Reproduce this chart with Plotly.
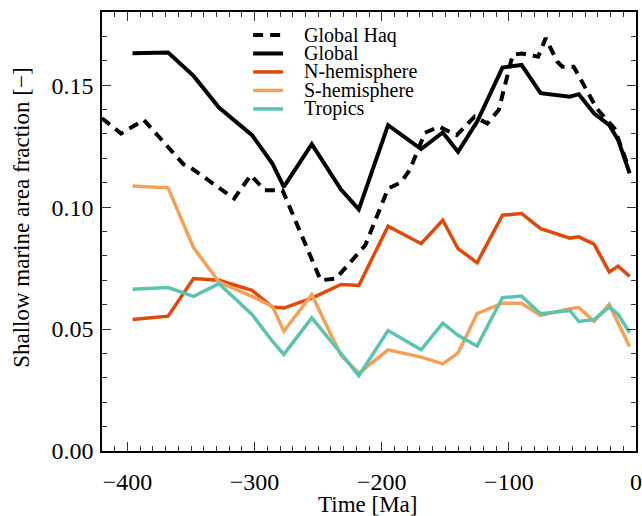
import plotly.graph_objects as go

# Model time slices (Ma) shared by the regional series
time_ma = [-396, -368, -348, -328, -302, -286, -277, -255, -232, -218, -195, -169,
           -152, -140, -125, -105, -90, -75, -52, -45, -33, -21, -14, -5]

global_frac = [0.1631, 0.1634, 0.1538, 0.1408, 0.1295, 0.1179, 0.1083, 0.1258,
               0.1072, 0.0991, 0.1336, 0.1238, 0.1306, 0.1227, 0.1350, 0.1572,
               0.1583, 0.1467, 0.1453, 0.1463, 0.1385, 0.1336, 0.1275, 0.1138]

nhem_frac = [0.0539, 0.0553, 0.0707, 0.0700, 0.0659, 0.0590, 0.0586, 0.0627,
             0.0683, 0.0679, 0.0922, 0.0850, 0.0946, 0.0830, 0.0772, 0.0967,
             0.0974, 0.0912, 0.0873, 0.0878, 0.0848, 0.0734, 0.0758, 0.0716]

shem_frac = [0.1087, 0.1079, 0.0834, 0.0693, 0.0634, 0.0593, 0.0491, 0.0641,
             0.0392, 0.0319, 0.0415, 0.0385, 0.0357, 0.0401, 0.0563, 0.0606,
             0.0606, 0.0556, 0.0583, 0.0588, 0.0532, 0.0601, 0.0525, 0.0428]

tropics_frac = [0.0663, 0.0670, 0.0634, 0.0686, 0.0560, 0.0450, 0.0396, 0.0546,
                0.0400, 0.0309, 0.0494, 0.0415, 0.0524, 0.0474, 0.0430, 0.0629,
                0.0635, 0.0563, 0.0576, 0.0531, 0.0539, 0.0590, 0.0560, 0.0485]

# Haq sea-level based estimate
haq_time = [-420, -405, -387, -356, -352, -316, -303, -292, -278, -248, -236, -213,
            -195, -185, -178, -166, -155, -141, -127, -117, -108, -97, -90, -77,
            -71, -62, -58, -49, -31, -17, -6]
haq_frac = [0.1364, 0.1302, 0.1357, 0.1176, 0.1168, 0.1035, 0.1131, 0.1069,
            0.1069, 0.0700, 0.0707, 0.0843, 0.1076, 0.1101, 0.1152, 0.1305,
            0.1330, 0.1295, 0.1371, 0.1343, 0.1398, 0.1624, 0.1630, 0.1617,
            0.1693, 0.1597, 0.1576, 0.1576, 0.1405, 0.1323, 0.1165]

series = [
    ("Global Haq", haq_time, haq_frac, "black", "10px,7px", 4),
    ("Global", time_ma, global_frac, "black", "solid", 4),
    ("N-hemisphere", time_ma, nhem_frac, "#e3480b", "solid", 3.5),
    ("S-hemisphere", time_ma, shem_frac, "#f4a055", "solid", 3.5),
    ("Tropics", time_ma, tropics_frac, "#5ac4b0", "solid", 3.5),
]

FONT = "Liberation Serif, Times New Roman, Times, serif"

fig = go.Figure()
for name, xs, ys, color, dash, width in series:
    fig.add_trace(go.Scatter(x=xs, y=ys, mode="lines", name=name,
                             line=dict(color=color, dash=dash, width=width),
                             showlegend=False))

# Hand-built legend: short line samples with labels, top-center of the panel
leg_x0, leg_x1, leg_tx = 0.283, 0.339, 0.376
leg_top, leg_step = 0.9476, 0.0421
for i, (name, _, _, color, dash, width) in enumerate(series):
    yy = leg_top - i * leg_step
    fig.add_shape(type="line", xref="paper", yref="paper",
                  x0=leg_x0, x1=leg_x1, y0=yy, y1=yy,
                  line=dict(color=color, dash=dash, width=width))
    fig.add_annotation(x=leg_tx, y=yy, xref="paper", yref="paper",
                       text=name, showarrow=False, xanchor="left", yanchor="middle",
                       borderpad=0,
                       font=dict(family=FONT, size=20, color="black"))

# Axis titles placed as free labels
fig.add_annotation(x=-0.15, y=0.531, xref="paper", yref="paper",
                   text="Shallow marine area fraction [\u2212]", showarrow=False,
                   textangle=-90, xanchor="center", yanchor="middle", borderpad=0,
                   font=dict(family=FONT, size=23, color="black"))
fig.add_annotation(x=0.498, y=-0.122, xref="paper", yref="paper",
                   text="Time [Ma]", showarrow=False,
                   xanchor="center", yanchor="middle", borderpad=0,
                   font=dict(family=FONT, size=23, color="black"))

axis_common = dict(
    showline=True, linecolor="black", linewidth=1.5, mirror="allticks",
    ticks="inside", ticklen=9, tickwidth=1.2, tickcolor="#333",
    showgrid=False, zeroline=False, automargin=False,
    tickfont=dict(family=FONT, size=24, color="black"),
)

fig.update_xaxes(range=[-420, 0], dtick=100, tick0=0, ticklabelstandoff=8,
                 minor=dict(ticks="inside", dtick=10, tick0=0, ticklen=5,
                            tickcolor="#333", tickwidth=1.2, showgrid=False),
                 **axis_common)
fig.update_yaxes(range=[0, 0.18], dtick=0.05, tick0=0, tickformat=".2f",
                 ticklabelstandoff=2,
                 minor=dict(ticks="inside", dtick=0.01, tick0=0, ticklen=5,
                            tickcolor="#333", tickwidth=1.2, showgrid=False),
                 **axis_common)

fig.update_layout(width=642, height=516, margin=dict(l=102, r=6, t=12, b=65),
                  plot_bgcolor="white", paper_bgcolor="white",
                  font=dict(family=FONT, color="black"))

fig.write_html("out.html")
